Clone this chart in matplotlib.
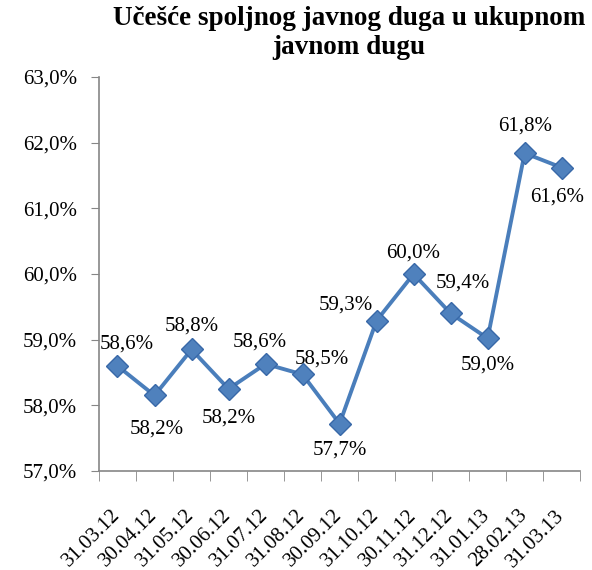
import matplotlib
matplotlib.use("Agg")
import matplotlib.pyplot as plt
from matplotlib.ticker import FuncFormatter, FixedLocator

dates = ["31.03.12", "30.04.12", "31.05.12", "30.06.12", "31.07.12", "31.08.12",
         "30.09.12", "31.10.12", "30.11.12", "31.12.12", "31.01.13", "28.02.13", "31.03.13"]
values = [58.60, 58.15, 58.85, 58.25, 58.63, 58.47, 57.72, 59.29, 60.00, 59.40, 59.02, 61.84, 61.62]
labels = ["58,6%", "58,2%", "58,8%", "58,2%", "58,6%", "58,5%", "57,7%",
          "59,3%", "60,0%", "59,4%", "59,0%", "61,8%", "61,6%"]
# label offsets in points (dx, dy)
offsets = [(7, 16), (1.5, -24.5), (0, 17), (0, -21), (-4, 16), (14, 11), (0, -19),
           (-22, 11), (0, 15), (9, 21.5), (0, -19), (0, 19.5), (-3.5, -21)]

plt.rcParams['font.family'] = ['Liberation Serif', 'DejaVu Serif']

fig = plt.figure(figsize=(5.92, 5.70), dpi=100)
ax = fig.add_axes([0.1672, 0.1737, 0.8128, 0.6913])

x = list(range(len(values)))
ax.plot(x, values, color="#4A7EBB", lw=2.8, marker="D", markersize=11,
        markerfacecolor="#4F81BD", markeredgecolor="#3868A8", markeredgewidth=1, zorder=3)

for xi, yi, lab, (dx, dy) in zip(x, values, labels, offsets):
    ax.annotate(lab, (xi, yi), xytext=(dx, dy), textcoords="offset points",
                ha="center", va="center", fontsize=15, color="black")

ax.set_xlim(-0.5, len(values) - 0.5)
ax.set_ylim(57, 63)
ax.set_yticks([57, 58, 59, 60, 61, 62, 63])
ax.yaxis.set_major_formatter(FuncFormatter(lambda v, p: f"{v:.1f}".replace(".", ",") + "%"))
ax.tick_params(axis="y", labelsize=15, length=6, color="#868686", pad=10)

ax.set_xticks(x)
ax.set_xticklabels(dates, rotation=45, ha="right", va="center", rotation_mode="anchor", fontsize=15)
ax.tick_params(axis="x", which="major", length=0, pad=30)
ax.xaxis.set_minor_locator(FixedLocator([i - 0.5 for i in range(len(values) + 1)]))
ax.tick_params(axis="x", which="minor", length=7, color="#868686")

for s in ["top", "right"]:
    ax.spines[s].set_visible(False)
for s in ["left", "bottom"]:
    ax.spines[s].set_color("#868686")
    ax.spines[s].set_linewidth(1.2)

fig.text(0.59, 0.99, "Učešće spoljnog javnog duga u ukupnom\njavnom dugu", ha="center", va="top",
         fontsize=19.5, fontweight="bold", linespacing=1.2)

fig.savefig("out.png", dpi=100)
